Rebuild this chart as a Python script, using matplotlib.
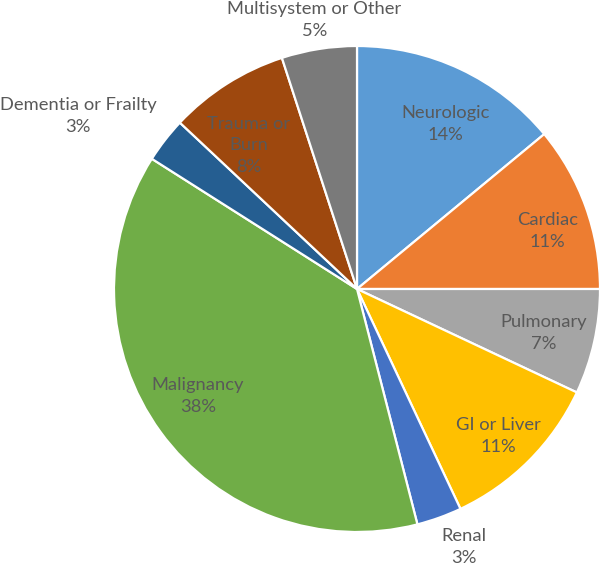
import numpy as np
import matplotlib
matplotlib.use("Agg")
import matplotlib.pyplot as plt

categories = ["Neurologic", "Cardiac", "Pulmonary", "GI or Liver", "Renal",
              "Malignancy", "Dementia or Frailty", "Trauma or\nBurn",
              "Multisystem or Other"]
shares = [14, 11, 7, 11, 3, 38, 3, 8, 5]
colors = ["#5B9BD5", "#ED7D31", "#A5A5A5", "#FFC000", "#4472C4",
          "#70AD47", "#255E91", "#9E480E", "#7A7A7A"]

# label placement: distance in pie radii and angle shift from wedge middle
label_r = [0.77, 0.82, 0.79, 0.84, 1.15, 0.79, 1.35, 0.74, 1.12]
label_shift = [-3, -3, -0.7, -1, 2.7, -2, 6, 4.6, 0]

plt.rcParams["font.family"] = ["Lato", "DejaVu Sans"]

fig = plt.figure(figsize=(6.0, 5.69), dpi=100)
ax = fig.add_axes([0, 0, 1, 1])

cx, cy, R = 357, 289, 243
W, H = 600, 569

wedges, _ = ax.pie(
    shares,
    colors=colors,
    startangle=90,
    counterclock=False,
    radius=1.0,
    wedgeprops=dict(edgecolor="white", linewidth=1.6),
)

for w, name, val, r, sh in zip(wedges, categories, shares, label_r, label_shift):
    mid = np.deg2rad((w.theta1 + w.theta2) / 2 + sh)
    x, y = r * np.cos(mid), r * np.sin(mid)
    ax.text(x, y, f"{name}\n{val}%", ha="center", va="center",
            fontsize=13.2, color="#595959", linespacing=1.45)

ax.set_xlim(-cx / R, (W - cx) / R)
ax.set_ylim(-(H - cy) / R, cy / R)
ax.set_aspect("equal")
ax.axis("off")

fig.savefig("out.png", dpi=100)
